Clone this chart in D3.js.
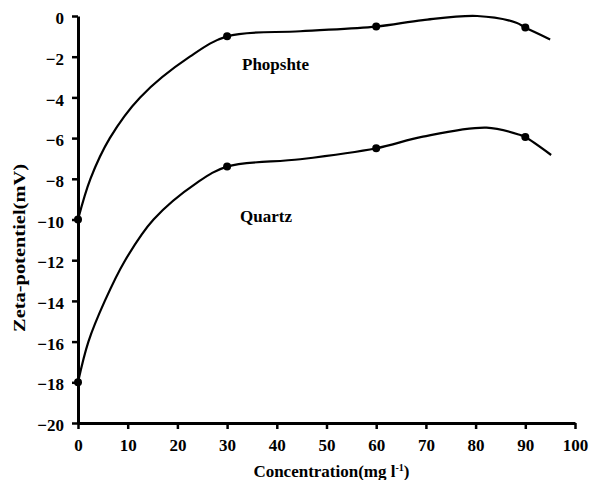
<!DOCTYPE html>
<html>
<head>
<meta charset="utf-8">
<script src="https://cdn.jsdelivr.net/npm/d3@7"></script>
<style>
  html, body { margin: 0; padding: 0; background: #fff; }
  svg { display: block; }
  text { font-family: "Liberation Serif", "Times New Roman", serif; }
</style>
</head>
<body>
<svg id="chart" width="592" height="480"></svg>
<script>
// ---- data ----
const xTicks = [0, 10, 20, 30, 40, 50, 60, 70, 80, 90, 100];
const yTicks = [0, -2, -4, -6, -8, -10, -12, -14, -16, -18, -20];

// measured points (markers)
const markerX = [0, 30, 60, 90];
const phosphateY = [-10, -1, -0.52, -0.57];
const quartzY = [-18, -7.4, -6.5, -5.95];

// smooth trend lines
const phosCurveX = [0, 2.5, 6.4, 12.5, 22.5, 30, 44.7, 60, 69.4, 80.3, 88.2, 90, 95];
const phosCurveY = [-10, -8, -6, -4, -2, -1, -0.75, -0.52, -0.2, 0, -0.33, -0.57, -1.15];
const quartzCurveX = [0, 2.1, 5.4, 9.5, 15.2, 23.9, 30, 44.7, 60, 69.4, 82.2, 89, 90, 95.2];
const quartzCurveY = [-18, -16, -14, -12, -10, -8.2, -7.4, -7.04, -6.5, -5.93, -5.49, -5.85, -5.95, -6.83];

const seriesLabels = ["Phopshte", "Quartz"];
const labelAt = [[33.0, -2.65], [32.6, -10.1]];
const xTitle = "Concentration(mg l";
const yTitle = "Zeta-potentiel(mV)";

// ---- drawing ----
const svg = d3.select("#chart");
const x = d3.scaleLinear().domain([0, 100]).range([78, 575]);
const y = d3.scaleLinear().domain([-20, 0]).range([423, 16]);

const xAxis = d3.axisBottom(x).tickValues(xTicks).tickSize(6).tickSizeOuter(0).tickPadding(10);
const yAxis = d3.axisLeft(y).tickValues(yTicks).tickSize(6).tickSizeOuter(0).tickPadding(8);

const gx = svg.append("g").attr("transform", `translate(0,${y(-20)})`).call(xAxis);
const gy = svg.append("g").attr("transform", `translate(${x(0)},0)`).call(yAxis);

[gx, gy].forEach(g => {
  g.select(".domain").attr("stroke", "#000").attr("stroke-width", 3);
  g.selectAll(".tick line").attr("stroke", "#000").attr("stroke-width", 2.5);
  g.selectAll(".tick text")
    .attr("fill", "#000")
    .style("font-family", '"Liberation Serif", "Times New Roman", serif')
    .style("font-size", "17px")
    .style("font-weight", "bold");
});
gy.selectAll(".tick text").attr("dy", "0.45em");

const line = d3.line().x(d => x(d[0])).y(d => y(d[1])).curve(d3.curveCatmullRom.alpha(0.5));

const curves = [
  d3.zip(phosCurveX, phosCurveY),
  d3.zip(quartzCurveX, quartzCurveY)
];
svg.selectAll("path.curve").data(curves).enter().append("path")
  .attr("class", "curve")
  .attr("d", line)
  .attr("fill", "none")
  .attr("stroke", "#000")
  .attr("stroke-width", 2.2);

const markers = [
  d3.zip(markerX, phosphateY),
  d3.zip(markerX, quartzY)
];
markers.forEach(ser => {
  svg.append("g").selectAll("circle").data(ser).enter().append("circle")
    .attr("cx", d => x(d[0]))
    .attr("cy", d => y(d[1]))
    .attr("r", 4)
    .attr("fill", "#000");
});

seriesLabels.forEach((t, i) => {
  svg.append("text")
    .attr("x", x(labelAt[i][0]))
    .attr("y", y(labelAt[i][1]))
    .attr("font-size", "17px")
    .attr("font-weight", "bold")
    .text(t);
});

// x axis title with superscript
const xt = svg.append("text")
  .attr("x", x(51))
  .attr("y", 477)
  .attr("text-anchor", "middle")
  .attr("font-size", "17px")
  .attr("font-weight", "bold");
xt.append("tspan").text(xTitle);
xt.append("tspan").attr("dy", -6).attr("font-size", "10px").text("-1");
xt.append("tspan").attr("dy", 6).text(")");

svg.append("text")
  .attr("transform", `translate(25,${248}) rotate(-90)`)
  .attr("text-anchor", "middle")
  .attr("font-size", "17px")
  .attr("font-weight", "bold")
  .attr("textLength", 168)
  .attr("lengthAdjust", "spacingAndGlyphs")
  .text(yTitle);
</script>
</body>
</html>
